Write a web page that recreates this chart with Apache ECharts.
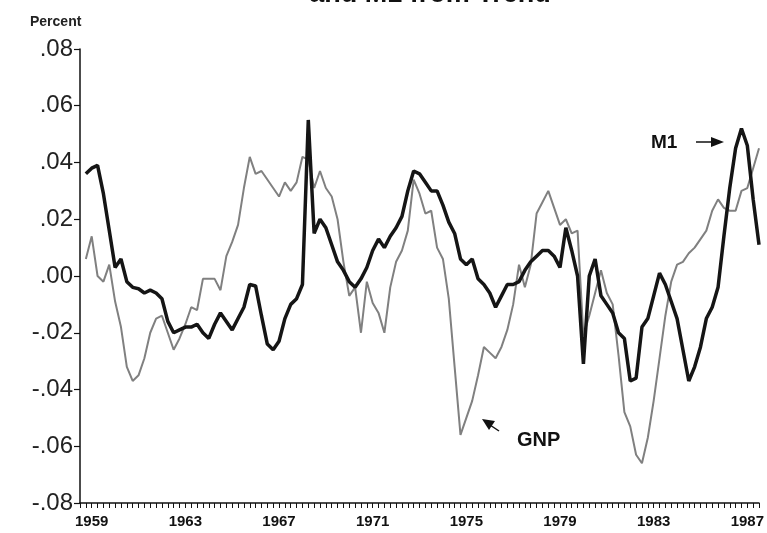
<!DOCTYPE html>
<html>
<head>
<meta charset="utf-8">
<script src="https://cdn.jsdelivr.net/npm/echarts@6/dist/echarts.min.js"></script>
<style>
html,body{margin:0;padding:0;background:#fff;}
#chart{width:767px;height:533px;}
</style>
</head>
<body>
<div id="chart"></div>
<script>
// Quarterly observations 1959Q1 .. 1987Q4 (index 0..115)
const startYear = 1959;
const labelYears = ['1959','1963','1967','1971','1975','1979','1983','1987'];
const m1 = [
  0.036, 0.038, 0.039, 0.029, 0.016, 0.003, 0.006, -0.002,
  -0.004, -0.0045, -0.006, -0.005, -0.006, -0.008, -0.016, -0.020,
  -0.019, -0.018, -0.018, -0.017, -0.020, -0.022, -0.017, -0.013,
  -0.016, -0.019, -0.015, -0.011, -0.003, -0.0035, -0.014, -0.024,
  -0.026, -0.023, -0.015, -0.010, -0.008, -0.003, 0.055, 0.015,
  0.020, 0.017, 0.011, 0.005, 0.002, -0.002, -0.004, -0.001,
  0.003, 0.009, 0.013, 0.010, 0.014, 0.017, 0.021, 0.030,
  0.037, 0.036, 0.033, 0.030, 0.030, 0.025, 0.019, 0.015,
  0.006, 0.004, 0.006, -0.001, -0.003, -0.006, -0.011, -0.007,
  -0.003, -0.003, -0.002, 0.002, 0.005, 0.007, 0.009, 0.009,
  0.007, 0.003, 0.017, 0.009, 0.000, -0.031, 0.000, 0.006,
  -0.007, -0.010, -0.013, -0.020, -0.022, -0.037, -0.036, -0.018,
  -0.015, -0.007, 0.001, -0.003, -0.009, -0.015, -0.026, -0.037,
  -0.032, -0.025, -0.015, -0.011, -0.004, 0.014, 0.031, 0.045,
  0.052, 0.046, 0.027, 0.011
];
const gnp = [
  0.006, 0.014, 0.000, -0.002, 0.004, -0.009, -0.018, -0.032,
  -0.037, -0.035, -0.029, -0.020, -0.015, -0.014, -0.020, -0.026,
  -0.022, -0.017, -0.011, -0.012, -0.001, -0.001, -0.001, -0.005,
  0.007, 0.012, 0.018, 0.031, 0.042, 0.036, 0.037, 0.034,
  0.031, 0.028, 0.033, 0.030, 0.033, 0.042, 0.041, 0.031,
  0.037, 0.031, 0.028, 0.020, 0.005, -0.007, -0.004, -0.020,
  -0.002, -0.0095, -0.013, -0.020, -0.004, 0.005, 0.009, 0.016,
  0.034, 0.029, 0.022, 0.023, 0.010, 0.006, -0.008, -0.032,
  -0.056, -0.050, -0.044, -0.035, -0.025, -0.027, -0.029, -0.025,
  -0.019, -0.010, 0.004, -0.004, 0.004, 0.022, 0.026, 0.030,
  0.024, 0.018, 0.020, 0.015, 0.016, -0.021, -0.014, -0.006,
  0.002, -0.006, -0.010, -0.028, -0.048, -0.053, -0.063, -0.066,
  -0.057, -0.044, -0.029, -0.014, -0.002, 0.004, 0.005, 0.008,
  0.010, 0.013, 0.016, 0.023, 0.027, 0.024, 0.023, 0.023,
  0.030, 0.031, 0.038, 0.045
];

const m1Data = m1.map((v, i) => [i, v]);
const gnpData = gnp.map((v, i) => [i, v]);

const chart = echarts.init(document.getElementById('chart'), null, {renderer: 'canvas'});
const FONT = 'Liberation Sans, Arial, Helvetica, sans-serif';

function yFmt(v) {
  const a = Math.abs(v);
  const s = a.toFixed(2).replace(/^0/, '');
  return (v < -1e-9 ? '-' : '') + s;
}
function xFmt(v) {
  const k = Math.round(v);
  if (k >= 1 && (k - 1) % 16 === 0) {
    const idx = (k - 1) / 16;
    return labelYears[idx] || '';
  }
  return '';
}

const option = {
  backgroundColor: '#ffffff',
  animation: false,
  grid: {left: 80, right: 5, top: 49, bottom: 30, containLabel: false},
  xAxis: {
    type: 'value', min: -1, max: 115, interval: 1,
    axisLine: {show: true, onZero: false, lineStyle: {color: '#111', width: 1.5}},
    axisTick: {show: true, inside: false, length: 5, lineStyle: {color: '#111', width: 1}},
    axisLabel: {formatter: xFmt, color: '#111', fontSize: 15, fontWeight: 'bold', fontFamily: FONT, margin: 11, showMinLabel: true, showMaxLabel: true},
    splitLine: {show: false}
  },
  yAxis: {
    type: 'value', min: -0.08, max: 0.08, interval: 0.02,
    axisLine: {show: true, onZero: false, lineStyle: {color: '#111', width: 1.5}},
    axisTick: {show: true, inside: false, length: 6, lineStyle: {color: '#111', width: 1.2}},
    axisLabel: {formatter: yFmt, color: '#222', fontSize: 24, fontFamily: FONT, margin: 7},
    splitLine: {show: false}
  },
  series: [
    {
      name: 'GNP', type: 'line', data: gnpData, showSymbol: false, symbol: 'none',
      lineStyle: {color: '#808080', width: 2}, z: 2
    },
    {
      name: 'M1', type: 'line', data: m1Data, showSymbol: false, symbol: 'none',
      lineStyle: {color: '#151515', width: 3.5}, z: 3
    }
  ],
  graphic: [
    {type: 'text', z: 10,
      style: {text: 'and M1 from Trend', x: 430, y: -19, textAlign: 'center', textVerticalAlign: 'top', font: 'bold 27px ' + FONT, fill: '#111'}},
    {type: 'text', style: {text: 'Percent', x: 30, y: 22, textVerticalAlign: 'middle', font: 'bold 14px ' + FONT, fill: '#222'}},
    {type: 'text', style: {text: 'M1', x: 651, y: 143, textVerticalAlign: 'middle', font: 'bold 19px ' + FONT, fill: '#111'}},
    {type: 'line', shape: {x1: 696, y1: 142, x2: 714, y2: 142}, style: {stroke: '#111', lineWidth: 1.5}},
    {type: 'polygon', shape: {points: [[724, 142], [711, 137], [711, 147]]}, style: {fill: '#111'}},
    {type: 'text', style: {text: 'GNP', x: 517, y: 440, textVerticalAlign: 'middle', font: 'bold 20px ' + FONT, fill: '#111'}},
    {type: 'line', shape: {x1: 499, y1: 431, x2: 490, y2: 425}, style: {stroke: '#111', lineWidth: 1.5}},
    {type: 'polygon', shape: {points: [[482, 419], [495, 421], [489, 430]]}, style: {fill: '#111'}}
  ]
};
chart.setOption(option);
</script>
</body>
</html>
